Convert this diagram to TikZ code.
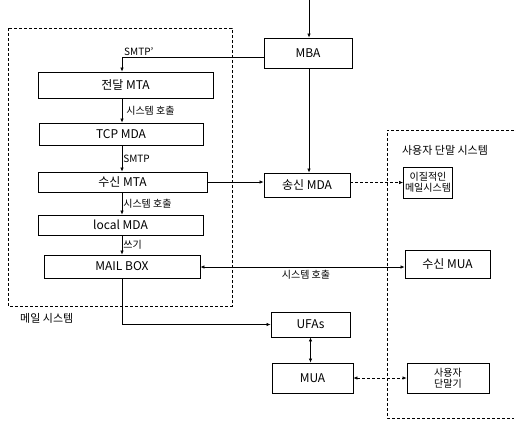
\documentclass[tikz,border=0pt]{standalone}
\usepackage{fontspec}
\setmainfont{Noto Sans CJK KR}
\usetikzlibrary{arrows.meta}
\begin{document}
\begin{tikzpicture}[x=1pt,y=-1pt,
  box/.style={draw,line width=0.9pt,inner sep=0.5pt,font=\fontsize{12}{13}\selectfont,align=center},
  lbl/.style={inner sep=1pt,font=\fontsize{10}{11}\selectfont},
  arr/.style={-{Latex[length=4pt,width=3.5pt]},line width=0.6pt},
  darr/.style={{Latex[length=4pt,width=3.5pt]}-{Latex[length=4pt,width=3.5pt]},line width=0.6pt},
  grp/.style={dashed,line width=0.6pt,dash pattern=on 3pt off 2pt}]
\useasboundingbox (0,0) rectangle (514,421);
\coordinate (col) at (122,0);
% left group
\draw[grp] (8,28) rectangle (232,306);
\node[lbl,anchor=west,font=\fontsize{11}{12}\selectfont] (gl) at (19,318) {메일 시스템};
% right group
\draw[grp] (514,130) -- (387,130) -- (387,418) -- (514,418);
\node[lbl,font=\fontsize{11}{12}\selectfont] (gr) at (445,150) {사용자 단말 시스템};
% boxes
\node[box,minimum width=175,minimum height=26] (jmta) at (125.5,85) {전달 MTA};
\node[box,minimum width=164,minimum height=22] (tcp) at (121,134) {TCP MDA};
\node[box,minimum width=169,minimum height=20] (smta) at (122.5,182) {수신 MTA};
\node[box,minimum width=165,minimum height=20] (lmda) at (120.5,225) {local MDA};
\node[box,minimum width=156,minimum height=23] (mbox) at (122,266.5) {MAIL BOX};
\node[box,minimum width=88,minimum height=30] (mba) at (308,53) {MBA};
\node[box,minimum width=86,minimum height=24] (smda) at (307,185) {송신 MDA};
\node[box,minimum width=49,minimum height=31,font=\fontsize{10}{10.5}\selectfont] (het) at (428,182.5) {이질적인\\메일시스템};
\node[box,minimum width=85,minimum height=28] (smua) at (447.5,264) {수신 MUA};
\node[box,minimum width=79,minimum height=25] (ufas) at (310.5,324.5) {UFAs};
\node[box,minimum width=81,minimum height=30] (mua) at (312.5,378) {MUA};
\node[box,minimum width=82,minimum height=30,font=\fontsize{10}{10.5}\selectfont] (term) at (448,378) {사용자\\단말기};
% connectors
\coordinate (in) at (309,0);
\draw[arr] (in) -- (in |- mba.north);
\draw[arr] (mba.west |- 0,57) -| (jmta.north -| col);
\node[lbl,anchor=south west] (l1) at (123,57) {SMTP'};
\draw[arr] (jmta.south -| col) -- (tcp.north -| col) node[lbl,midway,anchor=west,xshift=3pt] (l2) {시스템 호출};
\draw[arr] (tcp.south -| col) -- (smta.north -| col) node[lbl,midway,anchor=west] (l3) {SMTP};
\draw[arr] (smta.south -| col) -- (lmda.north -| col) node[lbl,midway,anchor=west] (l4) {시스템 호출};
\draw[arr] (lmda.south -| col) -- (mbox.north -| col) node[lbl,midway,anchor=west] (l5) {쓰기};
\draw[arr] (mba.south -| in) -- (smda.north -| in);
\draw[arr] (smta.east) -- (smta.east -| smda.west);
\draw[arr,grp] (smda.east |- het.west) -- (het.west);
\draw[darr] (mbox.east |- 0,267) -- (smua.west |- 0,267);
\node[lbl] (l6) at (306,275) {시스템 호출};
\draw[arr] (mbox.south -| col) |- (ufas.west);
\draw[darr] (ufas.south) -- (ufas.south |- mua.north);
\draw[darr,grp] (mua.east) -- (term.west);
\end{tikzpicture}
\end{document}
